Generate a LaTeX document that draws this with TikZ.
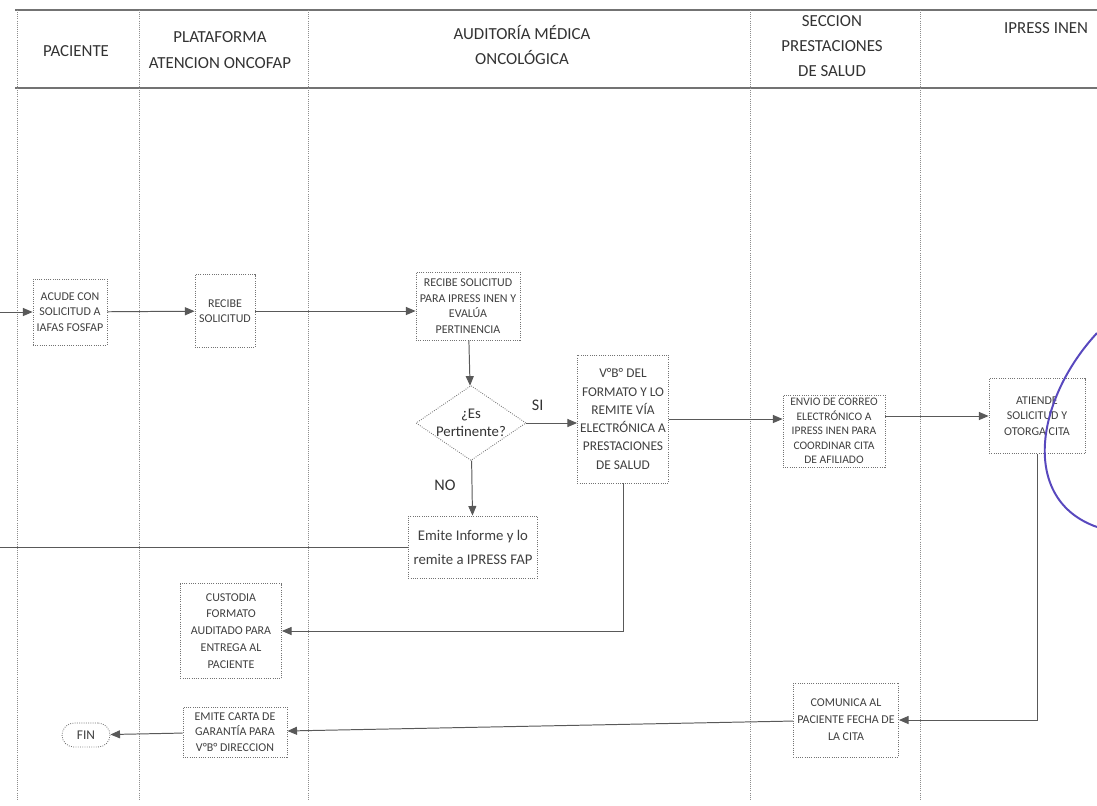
\documentclass[tikz,border=0pt]{standalone}
\usepackage{fontspec}
\setmainfont{Carlito}
\usetikzlibrary{arrows.meta,shapes.geometric}
\definecolor{penblue}{RGB}{88,72,190}
\tikzset{
	lane/.style={draw=black!45, densely dotted, line width=0.5pt},
	headline/.style={draw=black!55, line width=0.8pt},
	hdr/.style={align=center, text=black!80, font=\fontsize{12}{18}\selectfont},
	box/.style={draw=black!55, densely dotted, line width=0.6pt, fill=white, align=center, inner sep=1pt, text=black!75, font=\fontsize{8.5}{11}\selectfont},
	decision/.style={draw=black!55, densely dotted, line width=0.6pt, fill=white, diamond, inner sep=0pt},
	terminal/.style={draw=black!55, densely dotted, line width=0.6pt, fill=white, rounded corners=0.3cm, inner sep=1pt, text=black!75, font=\fontsize{9.5}{11}\selectfont},
	flow/.style={draw=black!65, line width=0.7pt, -{Triangle[length=2.4mm,width=2mm]}},
	link/.style={draw=black!65, line width=0.7pt},
	note/.style={text=black!80, font=\fontsize{11.5}{13}\selectfont},
	penmark/.style={draw=penblue, line width=1.4pt}
}

\begin{document}
\begin{tikzpicture}[x=0.025cm, y=-0.025cm]
		%%%%% START %%%%%
		\useasboundingbox (0, 0) rectangle (1097, 805);
		
		% lanes
		\draw[headline] (15, 10) -- (1097, 10);
		\draw[headline] (15, 88) -- (1097, 88);
		\draw[lane] (17, 10) -- (17, 800);
		\draw[lane] (139, 10) -- (139, 800);
		\draw[lane] (308, 10) -- (308, 800);
		\draw[lane] (750, 10) -- (750, 800);
		\draw[lane] (920, 10) -- (920, 800);
		
		\node[hdr] (hPac) at (76, 51) {PACIENTE};
		\node[hdr] (hPlat) at (220, 50) {PLATAFORMA\\ATENCION ONCOFAP};
		\node[hdr] (hAud) at (522, 45) {AUDITORÍA MÉDICA\\ONCOLÓGICA};
		\node[hdr] (hSec) at (832, 46) {SECCION\\PRESTACIONES\\DE SALUD};
		\node[hdr, anchor=east] (hIpr) at (1093, 28) {IPRESS INEN};
		
		% steps
		\node[box, minimum width=1.85cm, minimum height=1.65cm] (acude) at (70, 312) {ACUDE CON\\SOLICITUD A\\IAFAS FOSFAP};
		\node[box, minimum width=1.5cm, minimum height=1.825cm] (recibe) at (225, 311) {RECIBE\\SOLICITUD};
		\node[box, minimum width=2.6cm, minimum height=1.7cm] (evalua) at (468, 306) {RECIBE SOLICITUD\\PARA IPRESS INEN Y\\EVALÚA\\PERTINENCIA};
		\node[decision, minimum width=2.75cm, minimum height=1.875cm,
			label={[note, align=center, font=\fontsize{10.5}{12.5}\selectfont]center:{¿Es\\Pertinente?}}] (pert) at (471, 423) {};
		\node[box, minimum width=2.275cm, minimum height=3.2cm, font=\fontsize{9.5}{13}\selectfont] (vobo) at (623, 419) {V°B° DEL\\FORMATO Y LO\\REMITE VÍA\\ELECTRÓNICA A\\PRESTACIONES\\DE SALUD};
		\node[box, minimum width=2.55cm, minimum height=1.8cm, font=\fontsize{8.2}{10.3}\selectfont] (envio) at (834, 431) {ENVIO DE CORREO\\ELECTRÓNICO A\\IPRESS INEN PARA\\COORDINAR CITA\\DE AFILIADO};
		\node[box, minimum width=2.4cm, minimum height=1.875cm] (atiende) at (1037, 416) {ATIENDE\\SOLICITUD Y\\OTORGA CITA};
		\node[box, minimum width=3.225cm, minimum height=1.55cm, font=\fontsize{10.5}{17}\selectfont] (informe) at (473, 547) {Emite Informe y lo\\remite a IPRESS FAP};
		\node[box, minimum width=2.525cm, minimum height=2.375cm, font=\fontsize{8.5}{12}\selectfont] (custodia) at (231, 631) {CUSTODIA\\FORMATO\\AUDITADO PARA\\ENTREGA AL\\PACIENTE};
		\node[box, minimum width=2.625cm, minimum height=1.85cm, font=\fontsize{8.5}{12}\selectfont] (comunica) at (846, 720) {COMUNICA AL\\PACIENTE FECHA DE\\LA CITA};
		\node[box, minimum width=2.6cm, minimum height=1.25cm] (carta) at (235, 732) {EMITE CARTA DE\\GARANTÍA PARA\\V°B° DIRECCION};
		\node[terminal, minimum width=1.2cm, minimum height=0.6cm] (fin) at (86, 735) {FIN};
		
		% connectors
		\coordinate (entrada) at (0, 312);
		\coordinate (salida) at (0, 547);
		\draw[flow] (entrada) -- (acude);
		\draw[flow] (acude) -- (recibe);
		\draw[flow] (recibe) -- (recibe -| evalua.west);
		\draw[flow] (evalua) -- (pert);
		\draw[flow] (pert) -- (pert -| vobo.west) node[note, pos=0.22, above=5pt] (si) {SI};
		\draw[flow] (pert) -- (informe) node[note, pos=0.45, left=8pt] (no) {NO};
		\draw[flow] (vobo.east) -- (vobo.east -| envio.west);
		\draw[flow] (atiende -| envio.east) -- (atiende);
		\draw[link] (informe) -- (salida);
		\draw[flow] (vobo.south) |- (custodia.east);
		\draw[flow] (atiende.south) |- (comunica.east);
		\draw[flow] (comunica) -- (carta);
		\draw[flow] (carta) -- (fin);
		
		% pen mark
		\draw[penmark] (1097, 333) .. controls (1035, 400) and (1020, 500) .. (1097, 527);
		%%%%% END %%%%%
\end{tikzpicture}
\end{document}
